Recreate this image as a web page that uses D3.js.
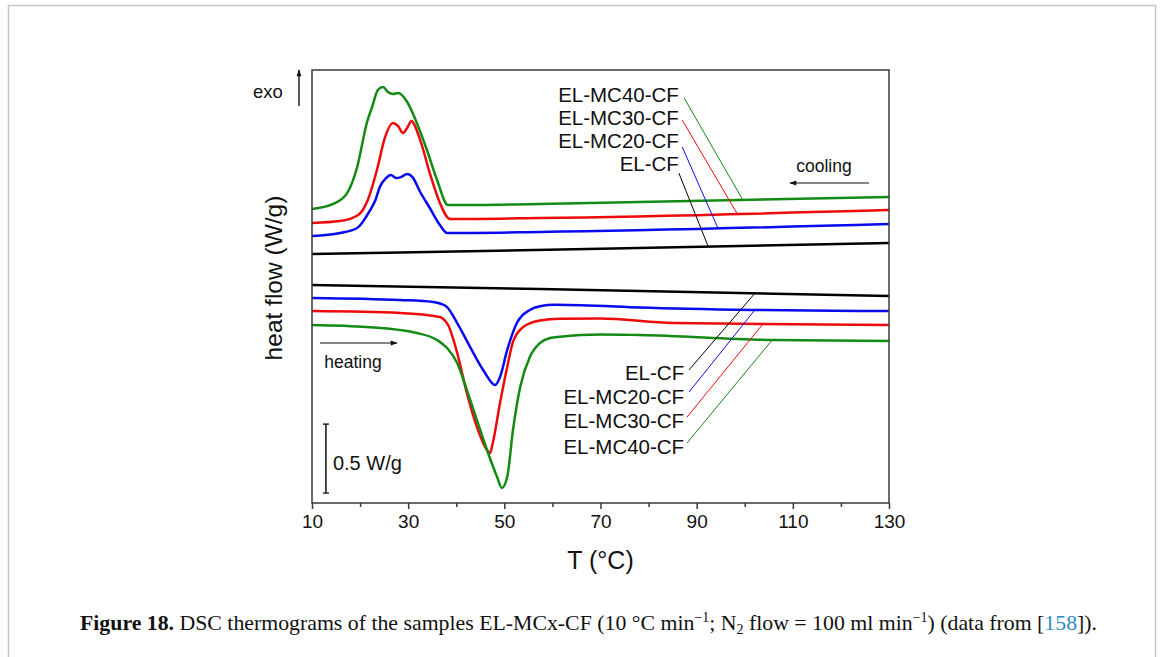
<!DOCTYPE html>
<html>
<head>
<meta charset="utf-8">
<script src="https://cdn.jsdelivr.net/npm/d3@7"></script>
<style>
  body { margin: 0; background: #fff; }
  svg text { font-family: "Liberation Sans", Arial, sans-serif; fill: #111; }
  text.caption { font-family: "Liberation Serif", "Times New Roman", serif; }
</style>
</head>
<body>
<svg id="chart" width="1167" height="657"></svg>
<script>
// temperature (°C) / heat flow (W/g, curves shifted vertically as in the figure)
var coolCF_T   = [10, 70, 130];
var coolCF_v   = [1.804, 1.843, 1.884];
var coolMC20_T = [10, 15.8, 19.4, 22.1, 23.2, 24.1, 25.4, 26.4, 27.5, 28.5, 29.8, 30.9, 32.5, 34.5, 36.6, 38.1, 57.4, 130];
var coolMC20_v = [1.935, 1.957, 1.993, 2.123, 2.196, 2.290, 2.355, 2.377, 2.355, 2.362, 2.384, 2.362, 2.254, 2.138, 2.015, 1.957, 1.964, 2.022];
var coolMC30_T = [10, 15.8, 19.6, 21.6, 23.5, 25.2, 26.8, 27.9, 28.9, 30.0, 30.6, 32.5, 34.5, 36.6, 38.7, 57.4, 130];
var coolMC30_v = [2.029, 2.043, 2.087, 2.196, 2.413, 2.652, 2.754, 2.732, 2.681, 2.732, 2.768, 2.630, 2.391, 2.174, 2.058, 2.065, 2.123];
var coolMC40_T = [10, 14.4, 17.3, 19.4, 21.4, 22.5, 23.7, 24.8, 25.8, 26.8, 27.9, 29.8, 31.8, 33.9, 36.0, 38.3, 57.4, 130];
var coolMC40_v = [2.130, 2.167, 2.246, 2.435, 2.754, 2.870, 2.993, 3.014, 2.978, 2.964, 2.971, 2.906, 2.754, 2.558, 2.341, 2.159, 2.167, 2.217];

var heatCF_T   = [10, 57.4, 130];
var heatCF_v   = [1.580, 1.551, 1.500];
var heatMC20_T = [10, 28.3, 35.2, 36.8, 38.1, 40.2, 42.9, 45.6, 48.1, 49.1, 50.6, 52.6, 55.3, 57.4, 60.5, 66.0, 78.2, 101.7, 130];
var heatMC20_v = [1.486, 1.471, 1.457, 1.444, 1.420, 1.304, 1.130, 0.964, 0.855, 0.913, 1.109, 1.304, 1.399, 1.426, 1.436, 1.434, 1.417, 1.399, 1.391];
var heatMC30_T = [10, 28.3, 36.6, 37.5, 38.3, 40.2, 42.2, 44.3, 46.4, 47.0, 47.6, 49.1, 50.6, 51.8, 53.9, 55.3, 57.4, 61.6, 69.9, 85.1, 130];
var heatMC30_v = [1.391, 1.377, 1.348, 1.328, 1.290, 1.087, 0.797, 0.551, 0.384, 0.362, 0.435, 0.725, 0.986, 1.167, 1.275, 1.302, 1.322, 1.335, 1.337, 1.304, 1.290];
var heatMC40_T = [10, 21.4, 31.8, 36.0, 38.1, 40.2, 42.2, 44.3, 46.4, 48.5, 49.5, 50.6, 51.8, 53.3, 55.3, 57.4, 59.5, 61.6, 69.9, 78.2, 105.9, 130];
var heatMC40_v = [1.290, 1.275, 1.232, 1.181, 1.123, 1.014, 0.819, 0.601, 0.384, 0.188, 0.109, 0.188, 0.529, 0.841, 1.058, 1.159, 1.196, 1.205, 1.222, 1.217, 1.181, 1.174];

var sampleNames = ["EL-CF", "EL-MC20-CF", "EL-MC30-CF", "EL-MC40-CF"];
var sampleColors = ["#000000", "#0a0aee", "#ee0a0a", "#138a13"];
var xTicks = [10, 30, 50, 70, 90, 110, 130];
var xMinorTicks = [20, 40, 60, 80, 100, 120];

// label anchors / leader lines (data units)
var coolLabelV   = [2.457, 2.623, 2.790, 2.957];
var coolLeadFrom = [[86.3, 2.391], [87.0, 2.580], [87.0, 2.775], [87.4, 2.935]];
var coolLeadToT  = [92.4, 94.4, 98.4, 99.6];
var heatLabelV   = [0.942, 0.768, 0.594, 0.406];
var heatLeadFrom = [[88.4, 0.964], [88.4, 0.804], [88.0, 0.623], [88.0, 0.435]];
var heatLeadToT  = [102.1, 102.1, 103.8, 105.7];

var svg = d3.select("#chart");

// outer page frame
svg.append("rect").attr("x", 8.5).attr("y", 5.5).attr("width", 1147).attr("height", 700)
  .attr("fill", "none").attr("stroke", "#c8c8c8").attr("stroke-width", 1.5);

var pl = 312, pr = 889, pt = 70, pb = 503;
var x = d3.scaleLinear().domain([10, 130]).range([pl, pr]);
var y = d3.scaleLinear().domain([0, 3.138]).range([pb, pt]);

function zip(ts, vs) { return ts.map(function (t, i) { return [t, vs[i]]; }); }
function interp(ts, vs, t) {
  for (var i = 1; i < ts.length; i++) {
    if (t <= ts[i]) { var f = (t - ts[i - 1]) / (ts[i] - ts[i - 1]); return vs[i - 1] + f * (vs[i] - vs[i - 1]); }
  }
  return vs[vs.length - 1];
}

var cool = [[coolCF_T, coolCF_v], [coolMC20_T, coolMC20_v], [coolMC30_T, coolMC30_v], [coolMC40_T, coolMC40_v]];
var heat = [[heatCF_T, heatCF_v], [heatMC20_T, heatMC20_v], [heatMC30_T, heatMC30_v], [heatMC40_T, heatMC40_v]];

var line = d3.line().x(function (d) { return x(d[0]); }).y(function (d) { return y(d[1]); })
  .curve(d3.curveMonotoneX);

var g = svg.append("g");
cool.concat(heat).forEach(function (c, i) {
  g.append("path").datum(zip(c[0], c[1])).attr("d", line)
    .attr("fill", "none").attr("stroke", sampleColors[i % 4]).attr("stroke-width", 2.5)
    .attr("stroke-linejoin", "round");
});

// leader lines + labels
sampleNames.forEach(function (name, i) {
  g.append("line")
    .attr("x1", x(coolLeadFrom[i][0])).attr("y1", y(coolLeadFrom[i][1]))
    .attr("x2", x(coolLeadToT[i])).attr("y2", y(interp(cool[i][0], cool[i][1], coolLeadToT[i])))
    .attr("stroke", sampleColors[i]).attr("stroke-width", 1);
  g.append("text").attr("x", x(86.3)).attr("y", y(coolLabelV[i])).attr("dy", "0.36em")
    .attr("text-anchor", "end").attr("font-size", 20.5).text(name);

  g.append("line")
    .attr("x1", x(heatLeadFrom[i][0])).attr("y1", y(heatLeadFrom[i][1]))
    .attr("x2", x(heatLeadToT[i])).attr("y2", y(interp(heat[i][0], heat[i][1], heatLeadToT[i])))
    .attr("stroke", sampleColors[i]).attr("stroke-width", 1);
  g.append("text").attr("x", x(87.4)).attr("y", y(heatLabelV[i])).attr("dy", "0.36em")
    .attr("text-anchor", "end").attr("font-size", 20.5).text(name);
});

// arrowheads
var defs = svg.append("defs");
defs.append("marker").attr("id", "ah").attr("viewBox", "0 0 10 10").attr("refX", 9).attr("refY", 5)
  .attr("markerWidth", 9).attr("markerHeight", 7).attr("markerUnits", "userSpaceOnUse").attr("orient", "auto")
  .append("path").attr("d", "M0,1.5 L10,5 L0,8.5 Z").attr("fill", "#111");

// cooling / heating annotations
svg.append("line").attr("x1", 869).attr("y1", 183).attr("x2", 790).attr("y2", 183)
  .attr("stroke", "#111").attr("stroke-width", 1.2).attr("marker-end", "url(#ah)");
svg.append("text").attr("x", 824).attr("y", 166).attr("dy", "0.36em").attr("text-anchor", "middle")
  .attr("font-size", 17.5).text("cooling");
svg.append("line").attr("x1", 320).attr("y1", 343).attr("x2", 397).attr("y2", 343)
  .attr("stroke", "#111").attr("stroke-width", 1.2).attr("marker-end", "url(#ah)");
svg.append("text").attr("x", 353).attr("y", 362).attr("dy", "0.36em").attr("text-anchor", "middle")
  .attr("font-size", 17.5).text("heating");

// exo arrow
svg.append("line").attr("x1", 299).attr("y1", 106).attr("x2", 299).attr("y2", 70)
  .attr("stroke", "#111").attr("stroke-width", 1.4).attr("marker-end", "url(#ah)");
svg.append("text").attr("x", 268).attr("y", 91).attr("dy", "0.36em").attr("text-anchor", "middle")
  .attr("font-size", 18.5).text("exo");

// 0.5 W/g scale bar
var sbx = x(12.9), sb0 = 0.072, sb1 = 0.572;
svg.append("line").attr("x1", sbx).attr("x2", sbx).attr("y1", y(sb0)).attr("y2", y(sb1))
  .attr("stroke", "#111").attr("stroke-width", 1.5);
[sb0, sb1].forEach(function (v) {
  svg.append("line").attr("x1", sbx - 3).attr("x2", sbx + 3).attr("y1", y(v)).attr("y2", y(v))
    .attr("stroke", "#111").attr("stroke-width", 1.3);
});
svg.append("text").attr("x", sbx + 7).attr("y", y(0.29)).attr("dy", "0.36em")
  .attr("font-size", 20).text("0.5 W/g");

// frame
svg.append("rect").attr("x", pl).attr("y", pt).attr("width", pr - pl).attr("height", pb - pt)
  .attr("fill", "none").attr("stroke", "#3a3a3a").attr("stroke-width", 1.5);

// x axis
var xAxis = svg.append("g").attr("transform", "translate(0," + pb + ")")
  .call(d3.axisBottom(x).tickValues(xTicks).tickSize(6).tickPadding(6).tickFormat(d3.format("d")));
xAxis.select(".domain").remove();
xAxis.selectAll("line").attr("stroke", "#3a3a3a").attr("stroke-width", 1.5);
xAxis.selectAll("text").attr("font-size", 19).attr("font-family", "Liberation Sans, Arial, sans-serif").attr("fill", "#111");
var xMinor = svg.append("g").attr("transform", "translate(0," + pb + ")")
  .call(d3.axisBottom(x).tickValues(xMinorTicks).tickSize(4).tickFormat(""));
xMinor.select(".domain").remove();
xMinor.selectAll("line").attr("stroke", "#3a3a3a").attr("stroke-width", 1.5);

// axis titles
svg.append("text").attr("x", (pl + pr) / 2).attr("y", 560).attr("dy", "0.36em").attr("text-anchor", "middle")
  .attr("font-size", 25).text("T (°C)");
svg.append("text").attr("transform", "translate(273,278) rotate(-90)").attr("dy", "0.36em")
  .attr("text-anchor", "middle").attr("font-size", 24.5).text("heat flow (W/g)");

// caption
var cap = svg.append("text").attr("class", "caption").attr("x", 80).attr("y", 630).attr("font-size", 21.8);
cap.append("tspan").attr("font-weight", "bold").text("Figure 18.");
cap.append("tspan").text(" DSC thermograms of the samples EL-MCx-CF (10 °C min");
cap.append("tspan").attr("dy", -8).attr("font-size", 14).text("−1");
cap.append("tspan").attr("dy", 8).text("; N");
cap.append("tspan").attr("dy", 4).attr("font-size", 14).text("2");
cap.append("tspan").attr("dy", -4).text(" flow = 100 ml min");
cap.append("tspan").attr("dy", -8).attr("font-size", 14).text("−1");
cap.append("tspan").attr("dy", 8).text(") (data from [");
cap.append("tspan").style("fill", "#2a8ac4").text("158");
cap.append("tspan").text("]).");
</script>
</body>
</html>
